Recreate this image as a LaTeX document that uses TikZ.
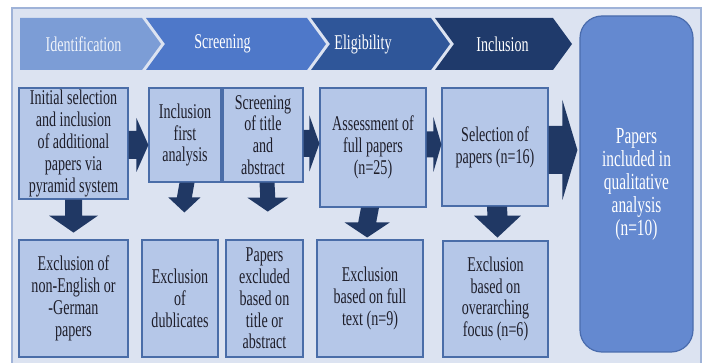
\documentclass[tikz,border=0pt]{standalone}
\usepackage{fontspec}
\setmainfont{Liberation Serif}[FakeStretch=0.67]
\usetikzlibrary{calc}

\definecolor{panelbg}{HTML}{DCE3F1}
\definecolor{panelline}{HTML}{9FB3D8}
\definecolor{boxfill}{HTML}{B5C7E8}
\definecolor{boxline}{HTML}{4A6DA8}
\definecolor{boxtext}{HTML}{1E1E2A}
\definecolor{navy}{HTML}{203864}
\definecolor{finfill}{HTML}{6489D0}
\definecolor{finline}{HTML}{4A6CAD}
\definecolor{chevA}{HTML}{7C9DD6}
\definecolor{chevB}{HTML}{4E78C9}
\definecolor{chevC}{HTML}{2F5699}
\definecolor{chevD}{HTML}{1F3A6B}

\tikzset{
  stagebox/.style={draw=boxline, line width=1.2pt, fill=boxfill, inner sep=0pt,
    align=center, text=boxtext, font=\fontsize{21}{21.8}\selectfont},
  finalbox/.style={draw=finline, line width=1.2pt, fill=finfill, inner sep=0pt,
    rounded corners=22pt, align=center, text=white,
    font=\fontsize{23}{23}\selectfont},
  headtext/.style={text=white, inner sep=0pt, font=\fontsize{21}{21.8}\selectfont},
}

% block arrow pointing right: base, tip, shaft half-height, head half-height, head length
\newcommand\rightblock[5]{%
  \fill[navy] ($(#1)+(0,-#3)$) -- ($(#2)+(-#5,-#3)$) -- ($(#2)+(-#5,-#4)$) -- (#2)
    -- ($(#2)+(-#5,#4)$) -- ($(#2)+(-#5,#3)$) -- ($(#1)+(0,#3)$) -- cycle;}
% block arrow pointing down (y grows downwards here)
\newcommand\downblock[5]{%
  \fill[navy] ($(#1)+(-#3,0)$) -- ($(#2)+(-#3,-#5)$) -- ($(#2)+(-#4,-#5)$) -- (#2)
    -- ($(#2)+(#4,-#5)$) -- ($(#2)+(#3,-#5)$) -- ($(#1)+(#3,0)$) -- cycle;}

\begin{document}
\begin{tikzpicture}[x=1pt,y=-1pt]
\useasboundingbox (0,0) rectangle (705,363);
\fill[white] (0,0) rectangle (705,363);
\draw[panelline, line width=1.2pt, fill=panelbg] (12,8) rectangle (701,366);

% stage banner
\fill[chevA] (20,18) -- (142,18) -- (161,44) -- (142,70) -- (20,70) -- cycle;
\fill[chevB] (146,18) -- (307,18) -- (326,44) -- (307,70) -- (146,70) -- (165,44) -- cycle;
\fill[chevC] (311,18) -- (431,18) -- (450,44) -- (431,70) -- (311,70) -- (330,44) -- cycle;
\fill[chevD] (435,18) -- (553,18) -- (572,44) -- (553,70) -- (435,70) -- (454,44) -- cycle;
\node[headtext, text=white!88!chevA] (hid)  at (83.5,44) {Identification};
\node[headtext] (hscr) at (222.5,44) {Screening};
\node[headtext] (heli) at (363,44) {Eligibility};
\node[headtext] (hinc) at (502.5,44) {Inclusion};

% stage boxes
\node[stagebox, minimum width=109pt, minimum height=111pt] (b1) at (73.5,143.5)
  {Initial selection\\and inclusion\\of additional\\papers via\\pyramid system};
\node[stagebox, minimum width=72pt, minimum height=94pt] (b2) at (185,135)
  {Inclusion\\first\\analysis};
\node[stagebox, minimum width=80pt, minimum height=94pt] (b3) at (263,135)
  {Screening\\of title\\and\\abstract};
\node[stagebox, minimum width=106pt, minimum height=119pt] (b4) at (373,147.5)
  {Assessment of\\full papers\\(n=25)};
\node[stagebox, minimum width=106pt, minimum height=118pt] (b5) at (495,147)
  {Selection of\\papers (n=16)};
\node[finalbox, minimum width=113pt, minimum height=336pt] (fin) at (636.5,184)
  {Papers\\included in\\qualitative\\analysis\\(n=10)};

% exclusion boxes
\node[stagebox, minimum width=109pt, minimum height=117pt] (e1) at (73.5,298.5)
  {Exclusion of\\non-English or\\-German\\papers};
\node[stagebox, minimum width=76pt, minimum height=117pt] (e2) at (180,298.5)
  {Exclusion\\of\\dublicates};
\node[stagebox, minimum width=77pt, minimum height=117pt] (e3) at (264.5,298.5)
  {Papers\\excluded\\based on\\title or\\abstract};
\node[stagebox, minimum width=106pt, minimum height=117pt] (e4) at (370,298.5)
  {Exclusion\\based on full\\text (n=9)};
\node[stagebox, minimum width=105pt, minimum height=116pt] (e5) at (495.5,299)
  {Exclusion\\based on\\overarching\\focus (n=6)};

% forward arrows
\rightblock{$(b1.east)+(0,1.5)$}{$(b2.west |- b1.east)+(0,1.5)$}{14}{27}{12}
\rightblock{$(b3.east |- b4.west)+(0,-4)$}{$(b4.west)+(0,-4)$}{13.5}{28}{10}
\rightblock{$(b4.east)+(0,-3)$}{$(b5.west |- b4.east)+(0,-3)$}{13}{27.5}{8}
\rightblock{$(b5.east)+(0,3)$}{$(fin.west |- b5.east)+(-2,3)$}{24}{50}{15}

% exclusion arrows
\downblock{b1.south}{$(b1.south)!33pt!(e1.north)$}{8.5}{24.5}{17}
\downblock{$(b2.south)+(2,0)$}{$(b2.south)!30pt!(e2.north)+(2,0)$}{7.5}{16}{15}
\downblock{$(b3.south)+(4,0)$}{$(b3.south)!29pt!(e3.north)+(4,0)$}{7.5}{20.5}{14}
\downblock{$(b4.south)+(-3,0)$}{$(b4.south)!30pt!(e4.north)+(-3,0)$}{9}{22.5}{15}
\downblock{$(b5.south)+(2,0)$}{$(b5.south)!31pt!(e5.north)+(2,0)$}{10}{23.5}{22}
\end{tikzpicture}
\end{document}
